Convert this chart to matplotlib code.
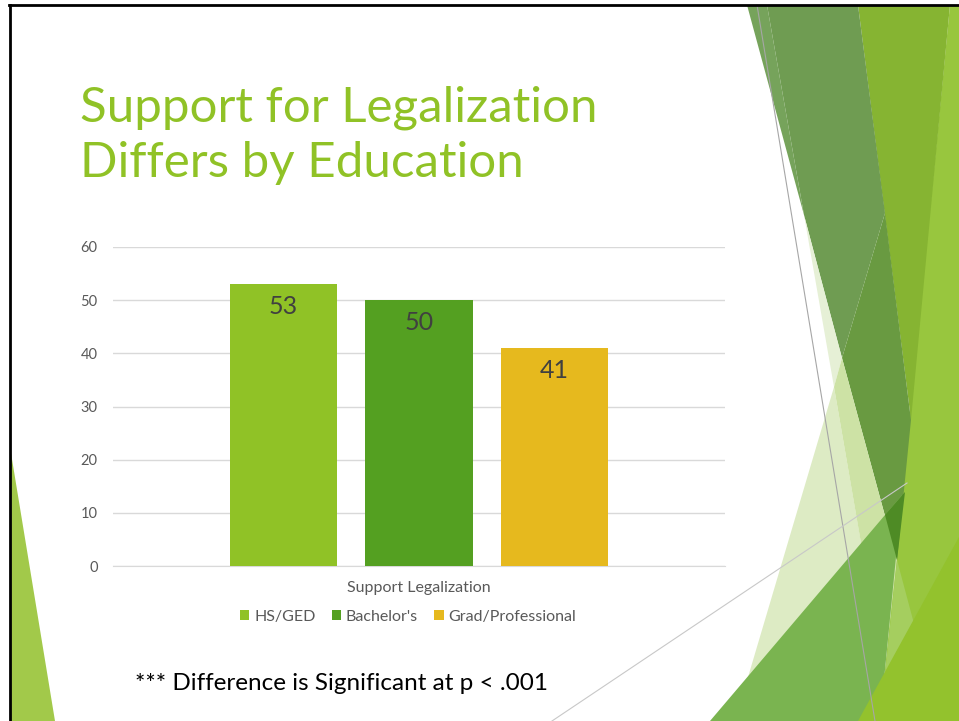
import matplotlib.pyplot as plt
from matplotlib.patches import Polygon

plt.rcParams['font.family'] = ['Lato', 'DejaVu Sans']

# chart data
groups = ["HS/GED", "Bachelor's", "Grad/Professional"]
support = [53, 50, 41]
bar_colors = ["#90C226", "#54A021", "#E6B91E"]
category = "Support Legalization"
yticks = [0, 10, 20, 30, 40, 50, 60]

W, H = 959, 721
fig = plt.figure(figsize=(W / 100, H / 100), dpi=100)

# slide background, decoration and text in pixel coordinates
bg = fig.add_axes([0, 0, 1, 1])
bg.set_xlim(0, W)
bg.set_ylim(H, 0)
bg.axis('off')

shapes = [
    ("#98C63E", [(950, 5), (959, 5), (959, 721), (880, 721)]),
    ("#86B432", [(858, 5), (950, 5), (911, 420)]),
    ("#76A35B", [(747, 5), (767, 5), (804, 215)]),
    ("#6F9C52", [(767, 5), (858, 5), (885, 213), (842, 358), (804, 215)]),
    ("#699A41", [(885, 213), (911, 420), (897, 560), (842, 358)]),
    ("#E6F0D6", [(804, 215), (842, 358), (834, 387)]),
    ("#DDEBC4", [(834, 387), (735, 721), (892, 721)]),
    ("#CDE2A5", [(834, 387), (842, 358), (897, 560), (884, 676)]),
    ("#A5CE5F", [(897, 560), (940, 721), (880, 721)]),
    ("#7AB450", [(710, 721), (902, 495), (880, 721)]),
    ("#4E8B25", [(885, 515), (905, 492), (897, 560)]),
    ("#93C22D", [(858, 721), (959, 537), (959, 721)]),
    ("#A2C94A", [(10, 447), (10, 721), (55, 721)]),
]
for col, pts in shapes:
    bg.add_patch(Polygon(pts, closed=True, facecolor=col, edgecolor='none'))

bg.plot([757, 875], [5, 721], color='#A6A6A6', lw=0.8)
bg.plot([552, 907], [721, 483], color='#C8C8C8', lw=0.8)

# slide border
bg.plot([9, 959], [5, 5], color='black', lw=2)
bg.plot([10, 10], [5, 721], color='black', lw=2)

bg.text(80, 122, "Support for Legalization", fontsize=35.5, color="#90C226", va='baseline')
bg.text(80, 177, "Differs by Education", fontsize=35.5, color="#90C226", va='baseline')
bg.text(135, 684, "*** Difference is Significant at p < .001", fontsize=17.5,
        color='black', va='center')

# bar chart
ax = fig.add_axes([113 / W, 1 - 566 / H, 612 / W, 319 / H])
ax.patch.set_alpha(0)
x = range(len(groups))
bars = ax.bar(x, support, width=0.79, color=bar_colors, zorder=3, label=None)
for b, v in zip(bars, support):
    ax.text(b.get_x() + b.get_width() / 2, v - 4.2, str(v), ha='center', va='center',
            fontsize=18, color='#404040', zorder=4)

ax.set_xlim(-1.258, 3.258)
ax.set_ylim(0, 60)
ax.set_yticks(yticks)
ax.yaxis.grid(True, color='#D9D9D9', lw=1)
ax.set_axisbelow(True)
ax.tick_params(axis='y', length=0, pad=11, labelsize=10.5, labelcolor='#595959')
ax.set_xticks([1], [category])
ax.tick_params(axis='x', length=0, pad=11, labelsize=11.5, labelcolor='#595959')
for s in ['top', 'right', 'left']:
    ax.spines[s].set_visible(False)
ax.spines['bottom'].set_color('#D9D9D9')

fig.legend(bars, groups, loc='center', bbox_to_anchor=(408 / W, 1 - 617 / H), ncol=3,
           frameon=False, fontsize=11.5, labelcolor='#595959', handlelength=0.6,
           handleheight=0.6, handletextpad=0.3, columnspacing=1.0)

fig.savefig('out.png', dpi=100)
